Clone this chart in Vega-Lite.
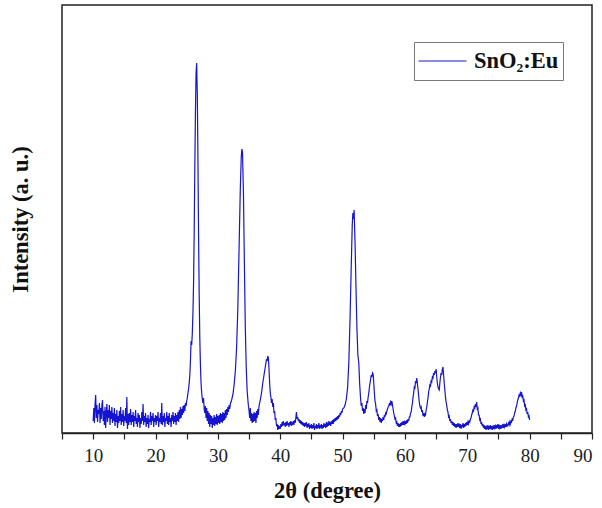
{
"$schema": "https://vega.github.io/schema/vega-lite/v6.json",
"width": 530, "height": 428,
"autosize": {"type": "none"},
"padding": {"left": 62, "top": 5, "right": 10, "bottom": 75},
"background": "white",
"config": {"view": {"stroke": "#222", "strokeWidth": 1.5}, "font": "Liberation Serif"},
"data": {"values": [
{"a":10.0,"i":12},{"a":10.1,"i":25},{"a":10.2,"i":10},{"a":10.3,"i":29},{"a":10.4,"i":38},{"a":10.5,"i":15},{"a":10.6,"i":28},{"a":10.7,"i":11},{"a":10.8,"i":23},{"a":10.9,"i":19},
{"a":11.0,"i":30},{"a":11.1,"i":10},{"a":11.2,"i":25},{"a":11.3,"i":14},{"a":11.4,"i":28},{"a":11.5,"i":33},{"a":11.6,"i":12},{"a":11.7,"i":22},{"a":11.8,"i":8},{"a":11.9,"i":26},
{"a":12.0,"i":5},{"a":12.1,"i":20},{"a":12.2,"i":29},{"a":12.3,"i":11},{"a":12.4,"i":23},{"a":12.5,"i":15},{"a":12.6,"i":28},{"a":12.7,"i":8},{"a":12.8,"i":22},{"a":12.9,"i":14},
{"a":13.0,"i":26},{"a":13.1,"i":10},{"a":13.2,"i":20},{"a":13.3,"i":12},{"a":13.4,"i":25},{"a":13.5,"i":7},{"a":13.6,"i":19},{"a":13.7,"i":11},{"a":13.8,"i":23},{"a":13.9,"i":5},
{"a":14.0,"i":17},{"a":14.1,"i":10},{"a":14.2,"i":22},{"a":14.3,"i":12},{"a":14.4,"i":26},{"a":14.5,"i":8},{"a":14.6,"i":19},{"a":14.7,"i":11},{"a":14.8,"i":23},{"a":14.9,"i":7},
{"a":15.0,"i":17},{"a":15.1,"i":12},{"a":15.2,"i":25},{"a":15.3,"i":10},{"a":15.4,"i":36},{"a":15.5,"i":4},{"a":15.6,"i":19},{"a":15.7,"i":8},{"a":15.8,"i":20},{"a":15.9,"i":11},
{"a":16.0,"i":24},{"a":16.1,"i":8},{"a":16.2,"i":18},{"a":16.3,"i":11},{"a":16.4,"i":21},{"a":16.5,"i":6},{"a":16.6,"i":17},{"a":16.7,"i":12},{"a":16.8,"i":23},{"a":16.9,"i":9},
{"a":17.0,"i":15},{"a":17.1,"i":6},{"a":17.2,"i":20},{"a":17.3,"i":11},{"a":17.4,"i":18},{"a":17.5,"i":5},{"a":17.6,"i":15},{"a":17.7,"i":9},{"a":17.8,"i":21},{"a":17.9,"i":12},
{"a":18.0,"i":29},{"a":18.1,"i":8},{"a":18.2,"i":17},{"a":18.3,"i":11},{"a":18.4,"i":20},{"a":18.5,"i":6},{"a":18.6,"i":15},{"a":18.7,"i":9},{"a":18.8,"i":18},{"a":18.9,"i":5},
{"a":19.0,"i":14},{"a":19.1,"i":11},{"a":19.2,"i":21},{"a":19.3,"i":8},{"a":19.4,"i":17},{"a":19.5,"i":12},{"a":19.6,"i":20},{"a":19.7,"i":6},{"a":19.8,"i":15},{"a":19.9,"i":11},
{"a":20.0,"i":18},{"a":20.1,"i":8},{"a":20.2,"i":17},{"a":20.3,"i":12},{"a":20.4,"i":21},{"a":20.5,"i":6},{"a":20.6,"i":15},{"a":20.7,"i":11},{"a":20.8,"i":20},{"a":20.9,"i":9},
{"a":21.0,"i":30},{"a":21.1,"i":8},{"a":21.2,"i":17},{"a":21.3,"i":11},{"a":21.4,"i":20},{"a":21.5,"i":6},{"a":21.6,"i":15},{"a":21.7,"i":12},{"a":21.8,"i":21},{"a":21.9,"i":9},
{"a":22.0,"i":17},{"a":22.1,"i":8},{"a":22.2,"i":20},{"a":22.3,"i":11},{"a":22.4,"i":15},{"a":22.5,"i":6},{"a":22.6,"i":18},{"a":22.7,"i":12},{"a":22.8,"i":21},{"a":22.9,"i":9},
{"a":23.0,"i":17},{"a":23.1,"i":11},{"a":23.2,"i":20},{"a":23.3,"i":8},{"a":23.4,"i":18},{"a":23.5,"i":12},{"a":23.6,"i":21},{"a":23.7,"i":11},{"a":23.8,"i":23},{"a":23.9,"i":14},
{"a":24.0,"i":26},{"a":24.1,"i":15},{"a":24.2,"i":24},{"a":24.3,"i":18},{"a":24.4,"i":27},{"a":24.5,"i":20},{"a":24.6,"i":28},{"a":24.7,"i":22},{"a":24.8,"i":30},{"a":24.9,"i":27},
{"a":25.0,"i":32},{"a":25.1,"i":35},{"a":25.2,"i":40},{"a":25.3,"i":44},{"a":25.4,"i":50},{"a":25.5,"i":58},{"a":25.6,"i":72},{"a":25.7,"i":92},{"a":25.8,"i":88},{"a":25.9,"i":100},
{"a":26.0,"i":120},{"a":26.1,"i":150},{"a":26.2,"i":200},{"a":26.3,"i":265},{"a":26.4,"i":320},{"a":26.5,"i":360},{"a":26.6,"i":370},{"a":26.65,"i":352},{"a":26.7,"i":340},{"a":26.8,"i":275},{"a":26.9,"i":200},
{"a":27.0,"i":140},{"a":27.1,"i":95},{"a":27.2,"i":68},{"a":27.3,"i":50},{"a":27.4,"i":40},{"a":27.5,"i":34},{"a":27.6,"i":30},{"a":27.7,"i":35},{"a":27.8,"i":24},{"a":27.9,"i":20},
{"a":28.0,"i":27},{"a":28.1,"i":15},{"a":28.2,"i":25},{"a":28.3,"i":12},{"a":28.4,"i":22},{"a":28.5,"i":9},{"a":28.6,"i":20},{"a":28.7,"i":6},{"a":28.8,"i":18},{"a":28.9,"i":9},
{"a":29.0,"i":17},{"a":29.1,"i":5},{"a":29.2,"i":15},{"a":29.3,"i":8},{"a":29.4,"i":18},{"a":29.5,"i":7},{"a":29.6,"i":16},{"a":29.7,"i":9},{"a":29.8,"i":19},{"a":29.9,"i":8},
{"a":30.0,"i":17},{"a":30.1,"i":10},{"a":30.2,"i":18},{"a":30.3,"i":9},{"a":30.4,"i":20},{"a":30.5,"i":11},{"a":30.6,"i":19},{"a":30.7,"i":10},{"a":30.8,"i":21},{"a":30.9,"i":12},
{"a":31.0,"i":20},{"a":31.1,"i":13},{"a":31.2,"i":23},{"a":31.3,"i":15},{"a":31.4,"i":24},{"a":31.5,"i":18},{"a":31.6,"i":26},{"a":31.7,"i":21},{"a":31.8,"i":28},{"a":31.9,"i":24},
{"a":32.0,"i":29},{"a":32.2,"i":33},{"a":32.4,"i":38},{"a":32.6,"i":48},{"a":32.8,"i":62},{"a":33.0,"i":85},{"a":33.2,"i":125},{"a":33.4,"i":185},{"a":33.6,"i":245},{"a":33.75,"i":276},
{"a":33.85,"i":284},{"a":33.95,"i":281},{"a":34.1,"i":240},{"a":34.25,"i":170},{"a":34.4,"i":105},{"a":34.55,"i":65},{"a":34.7,"i":42},{"a":34.85,"i":30},{"a":35.0,"i":22},
{"a":35.1,"i":15},{"a":35.2,"i":25},{"a":35.3,"i":12},{"a":35.4,"i":20},{"a":35.5,"i":10},{"a":35.6,"i":19},{"a":35.7,"i":11},{"a":35.8,"i":21},{"a":35.9,"i":12},
{"a":36.0,"i":20},{"a":36.1,"i":10},{"a":36.2,"i":22},{"a":36.3,"i":15},{"a":36.4,"i":24},{"a":36.5,"i":18},{"a":36.6,"i":27},{"a":36.8,"i":33},{"a":37.0,"i":40},{"a":37.2,"i":50},
{"a":37.4,"i":58},{"a":37.6,"i":66},{"a":37.8,"i":74},{"a":37.9,"i":72},{"a":38.0,"i":77},{"a":38.1,"i":75},{"a":38.2,"i":64},{"a":38.3,"i":50},{"a":38.4,"i":40},{"a":38.5,"i":36},
{"a":38.6,"i":30},{"a":38.7,"i":34},{"a":38.8,"i":26},{"a":38.9,"i":30},{"a":39.0,"i":20},{"a":39.1,"i":22},{"a":39.2,"i":13},{"a":39.3,"i":15},{"a":39.4,"i":7},{"a":39.5,"i":9},
{"a":39.6,"i":3},{"a":39.7,"i":8},{"a":39.8,"i":4},{"a":39.9,"i":7},
{"a":40.0,"i":4},{"a":40.1,"i":9},{"a":40.2,"i":6},{"a":40.3,"i":11},{"a":40.4,"i":7},{"a":40.5,"i":12},{"a":40.6,"i":8},{"a":40.7,"i":10},{"a":40.8,"i":6},{"a":40.9,"i":11},
{"a":41.0,"i":7},{"a":41.1,"i":12},{"a":41.2,"i":8},{"a":41.3,"i":10},{"a":41.4,"i":6},{"a":41.5,"i":11},{"a":41.6,"i":8},{"a":41.7,"i":12},{"a":41.8,"i":7},{"a":41.9,"i":10},
{"a":42.0,"i":9},{"a":42.1,"i":12},{"a":42.2,"i":8},{"a":42.3,"i":13},{"a":42.4,"i":10},{"a":42.5,"i":15},{"a":42.6,"i":21},{"a":42.7,"i":14},{"a":42.8,"i":16},{"a":42.9,"i":12},
{"a":43.0,"i":14},{"a":43.1,"i":10},{"a":43.2,"i":13},{"a":43.3,"i":9},{"a":43.4,"i":12},{"a":43.5,"i":8},{"a":43.6,"i":11},{"a":43.7,"i":7},{"a":43.8,"i":10},{"a":43.9,"i":6},
{"a":44.0,"i":10},{"a":44.1,"i":7},{"a":44.2,"i":11},{"a":44.3,"i":5},{"a":44.4,"i":9},{"a":44.5,"i":6},{"a":44.6,"i":10},{"a":44.7,"i":4},{"a":44.8,"i":8},{"a":44.9,"i":5},
{"a":45.0,"i":9},{"a":45.1,"i":4},{"a":45.2,"i":8},{"a":45.3,"i":5},{"a":45.4,"i":10},{"a":45.5,"i":3},{"a":45.6,"i":7},{"a":45.7,"i":5},{"a":45.8,"i":9},{"a":45.9,"i":4},
{"a":46.0,"i":8},{"a":46.1,"i":5},{"a":46.2,"i":10},{"a":46.3,"i":4},{"a":46.4,"i":7},{"a":46.5,"i":6},{"a":46.6,"i":9},{"a":46.7,"i":4},{"a":46.8,"i":8},{"a":46.9,"i":5},
{"a":47.0,"i":10},{"a":47.1,"i":6},{"a":47.2,"i":9},{"a":47.3,"i":5},{"a":47.4,"i":11},{"a":47.5,"i":6},{"a":47.6,"i":9},{"a":47.7,"i":7},{"a":47.8,"i":12},{"a":47.9,"i":8},
{"a":48.0,"i":11},{"a":48.1,"i":7},{"a":48.2,"i":12},{"a":48.3,"i":9},{"a":48.4,"i":13},{"a":48.5,"i":9},{"a":48.6,"i":14},{"a":48.7,"i":11},{"a":48.8,"i":15},{"a":48.9,"i":12},
{"a":49.0,"i":16},{"a":49.1,"i":13},{"a":49.2,"i":17},{"a":49.3,"i":14},{"a":49.4,"i":18},{"a":49.5,"i":16},{"a":49.6,"i":20},{"a":49.7,"i":18},{"a":49.8,"i":22},{"a":49.9,"i":20},
{"a":50.0,"i":24},{"a":50.2,"i":25},{"a":50.4,"i":28},{"a":50.6,"i":34},{"a":50.8,"i":45},{"a":51.0,"i":70},{"a":51.2,"i":115},{"a":51.4,"i":170},{"a":51.55,"i":208},{"a":51.65,"i":220},
{"a":51.75,"i":214},{"a":51.85,"i":223},{"a":52.0,"i":190},{"a":52.15,"i":145},{"a":52.3,"i":105},{"a":52.45,"i":78},{"a":52.6,"i":70},{"a":52.75,"i":48},{"a":52.9,"i":33},{"a":53.0,"i":27},
{"a":53.1,"i":30},{"a":53.2,"i":22},{"a":53.3,"i":25},{"a":53.4,"i":19},{"a":53.5,"i":24},{"a":53.6,"i":20},{"a":53.7,"i":28},{"a":53.8,"i":24},{"a":53.9,"i":32},{"a":54.0,"i":30},
{"a":54.1,"i":36},{"a":54.2,"i":40},{"a":54.35,"i":48},{"a":54.5,"i":54},{"a":54.6,"i":58},{"a":54.7,"i":56},{"a":54.8,"i":60},{"a":54.9,"i":59},{"a":55.0,"i":50},{"a":55.1,"i":40},
{"a":55.2,"i":32},{"a":55.3,"i":29},{"a":55.4,"i":22},{"a":55.5,"i":23},{"a":55.6,"i":17},{"a":55.7,"i":19},{"a":55.8,"i":13},{"a":55.9,"i":16},{"a":56.0,"i":11},{"a":56.1,"i":15},
{"a":56.2,"i":10},{"a":56.3,"i":14},{"a":56.4,"i":12},{"a":56.5,"i":16},{"a":56.6,"i":13},{"a":56.7,"i":18},{"a":56.8,"i":16},{"a":56.9,"i":20},{"a":57.0,"i":19},{"a":57.1,"i":22},
{"a":57.2,"i":24},{"a":57.3,"i":26},{"a":57.4,"i":27},{"a":57.5,"i":29},{"a":57.6,"i":28},{"a":57.7,"i":31},{"a":57.8,"i":29},{"a":57.9,"i":32},{"a":58.0,"i":28},{"a":58.1,"i":24},
{"a":58.2,"i":20},{"a":58.3,"i":17},{"a":58.4,"i":14},{"a":58.5,"i":15},{"a":58.6,"i":10},{"a":58.7,"i":11},{"a":58.8,"i":7},{"a":58.9,"i":10},{"a":59.0,"i":6},{"a":59.1,"i":9},
{"a":59.2,"i":6},{"a":59.3,"i":10},{"a":59.4,"i":7},{"a":59.5,"i":11},{"a":59.6,"i":8},{"a":59.7,"i":12},{"a":59.8,"i":8},{"a":59.9,"i":11},
{"a":60.0,"i":9},{"a":60.1,"i":12},{"a":60.2,"i":9},{"a":60.3,"i":13},{"a":60.4,"i":10},{"a":60.5,"i":14},{"a":60.6,"i":12},{"a":60.7,"i":16},{"a":60.8,"i":16},{"a":60.9,"i":20},
{"a":61.0,"i":21},{"a":61.1,"i":26},{"a":61.2,"i":30},{"a":61.3,"i":36},{"a":61.4,"i":40},{"a":61.5,"i":46},{"a":61.6,"i":45},{"a":61.7,"i":52},{"a":61.8,"i":50},{"a":61.9,"i":55},
{"a":62.0,"i":49},{"a":62.1,"i":44},{"a":62.2,"i":37},{"a":62.3,"i":31},{"a":62.4,"i":27},{"a":62.5,"i":25},{"a":62.6,"i":26},{"a":62.7,"i":21},{"a":62.8,"i":23},{"a":62.9,"i":17},
{"a":63.0,"i":20},{"a":63.1,"i":16},{"a":63.2,"i":19},{"a":63.3,"i":18},{"a":63.4,"i":23},{"a":63.5,"i":26},{"a":63.6,"i":31},{"a":63.7,"i":35},{"a":63.8,"i":41},{"a":63.9,"i":44},
{"a":64.0,"i":48},{"a":64.1,"i":47},{"a":64.2,"i":52},{"a":64.3,"i":51},{"a":64.4,"i":56},{"a":64.5,"i":55},{"a":64.6,"i":60},{"a":64.7,"i":58},{"a":64.8,"i":62},{"a":64.9,"i":60},
{"a":65.0,"i":64},{"a":65.1,"i":56},{"a":65.2,"i":50},{"a":65.3,"i":46},{"a":65.4,"i":44},{"a":65.5,"i":43},{"a":65.6,"i":50},{"a":65.7,"i":56},{"a":65.8,"i":60},{"a":65.9,"i":58},
{"a":66.0,"i":64},{"a":66.1,"i":66},{"a":66.2,"i":58},{"a":66.3,"i":50},{"a":66.4,"i":43},{"a":66.5,"i":36},{"a":66.6,"i":31},{"a":66.7,"i":28},{"a":66.8,"i":23},{"a":66.9,"i":21},
{"a":67.0,"i":16},{"a":67.1,"i":17},{"a":67.2,"i":12},{"a":67.3,"i":14},{"a":67.4,"i":10},{"a":67.5,"i":12},{"a":67.6,"i":8},{"a":67.7,"i":11},{"a":67.8,"i":7},{"a":67.9,"i":10},
{"a":68.0,"i":6},{"a":68.1,"i":9},{"a":68.2,"i":5},{"a":68.3,"i":9},{"a":68.4,"i":6},{"a":68.5,"i":10},{"a":68.6,"i":6},{"a":68.7,"i":8},{"a":68.8,"i":5},{"a":68.9,"i":9},
{"a":69.0,"i":4},{"a":69.1,"i":8},{"a":69.2,"i":6},{"a":69.3,"i":10},{"a":69.4,"i":5},{"a":69.5,"i":9},{"a":69.6,"i":6},{"a":69.7,"i":10},{"a":69.8,"i":7},{"a":69.9,"i":11},
{"a":70.0,"i":8},{"a":70.1,"i":11},{"a":70.2,"i":9},{"a":70.3,"i":12},{"a":70.4,"i":11},{"a":70.5,"i":14},{"a":70.6,"i":15},{"a":70.7,"i":18},{"a":70.8,"i":20},{"a":70.9,"i":23},
{"a":71.0,"i":22},{"a":71.1,"i":26},{"a":71.2,"i":25},{"a":71.3,"i":29},{"a":71.4,"i":26},{"a":71.5,"i":31},{"a":71.6,"i":24},{"a":71.7,"i":25},{"a":71.8,"i":18},{"a":71.9,"i":18},
{"a":72.0,"i":13},{"a":72.1,"i":14},{"a":72.2,"i":9},{"a":72.3,"i":11},{"a":72.4,"i":7},{"a":72.5,"i":9},{"a":72.6,"i":5},{"a":72.7,"i":8},{"a":72.8,"i":4},{"a":72.9,"i":7},
{"a":73.0,"i":3},{"a":73.1,"i":6},{"a":73.2,"i":4},{"a":73.3,"i":8},{"a":73.4,"i":3},{"a":73.5,"i":7},{"a":73.6,"i":4},{"a":73.7,"i":8},{"a":73.8,"i":5},{"a":73.9,"i":7},
{"a":74.0,"i":3},{"a":74.1,"i":6},{"a":74.2,"i":4},{"a":74.3,"i":8},{"a":74.4,"i":5},{"a":74.5,"i":7},{"a":74.6,"i":4},{"a":74.7,"i":8},{"a":74.8,"i":5},{"a":74.9,"i":9},
{"a":75.0,"i":4},{"a":75.1,"i":7},{"a":75.2,"i":5},{"a":75.3,"i":8},{"a":75.4,"i":4},{"a":75.5,"i":7},{"a":75.6,"i":6},{"a":75.7,"i":9},{"a":75.8,"i":5},{"a":75.9,"i":8},
{"a":76.0,"i":6},{"a":76.1,"i":9},{"a":76.2,"i":6},{"a":76.3,"i":9},{"a":76.4,"i":7},{"a":76.5,"i":8},{"a":76.6,"i":10},{"a":76.7,"i":8},{"a":76.8,"i":11},{"a":76.9,"i":9},
{"a":77.0,"i":12},{"a":77.1,"i":11},{"a":77.2,"i":14},{"a":77.3,"i":13},{"a":77.4,"i":16},{"a":77.5,"i":17},{"a":77.6,"i":20},{"a":77.7,"i":22},{"a":77.8,"i":25},{"a":77.9,"i":27},
{"a":78.0,"i":30},{"a":78.1,"i":33},{"a":78.2,"i":35},{"a":78.3,"i":38},{"a":78.4,"i":37},{"a":78.5,"i":40},{"a":78.6,"i":38},{"a":78.7,"i":41},{"a":78.8,"i":36},{"a":78.9,"i":37},
{"a":79.0,"i":32},{"a":79.1,"i":33},{"a":79.2,"i":27},{"a":79.3,"i":28},{"a":79.4,"i":23},{"a":79.5,"i":24},{"a":79.6,"i":19},{"a":79.7,"i":21},{"a":79.8,"i":16},{"a":79.9,"i":17},
{"a":80.0,"i":13}
]},
"mark": {"type": "line", "strokeWidth": 1.2, "interpolate": "linear"},
"encoding": {
  "x": {"field": "a", "type": "quantitative",
        "scale": {"domain": [5, 90], "nice": false, "zero": false},
        "axis": {"values": [5,10,15,20,25,30,35,40,45,50,55,60,65,70,75,80,85,90],
                 "labelExpr": "datum.value % 10 == 0 ? datum.label : ''",
                 "grid": false, "domainColor": "#222", "domainWidth": 1.5, "tickColor": "#222", "tickWidth": 1.2, "tickSize": 6,
                 "labelFont": "Liberation Serif", "labelFontSize": 19, "labelColor": "#222", "labelPadding": 7,
                 "title": "2θ (degree)", "titleFont": "Liberation Serif", "titleFontSize": 22.5, "titleFontWeight": "bold", "titleColor": "#111", "titlePadding": 14}},
  "y": {"field": "i", "type": "quantitative",
        "scale": {"domain": [0, 428], "nice": false},
        "axis": {"labels": false, "ticks": false, "domain": false, "grid": false,
                 "title": "Intensity (a. u.)", "titleFont": "Liberation Serif", "titleFontSize": 22.5, "titleFontWeight": "bold", "titleColor": "#111", "titlePadding": 30}},
  "color": {"datum": "SnO₂:Eu", "type": "nominal",
            "scale": {"range": ["#1414d2"]},
            "legend": {"orient": "none", "legendX": 352, "legendY": 37, "title": null,
                       "strokeColor": "#777", "fillColor": "white", "padding": 4, "clipHeight": 30,
                       "symbolType": "stroke", "symbolSize": 2304, "symbolStrokeWidth": 1,
                       "labelFont": "Liberation Serif", "labelFontSize": 22.5, "labelFontWeight": "bold", "labelColor": "#111", "labelOffset": 7}}
}
}
